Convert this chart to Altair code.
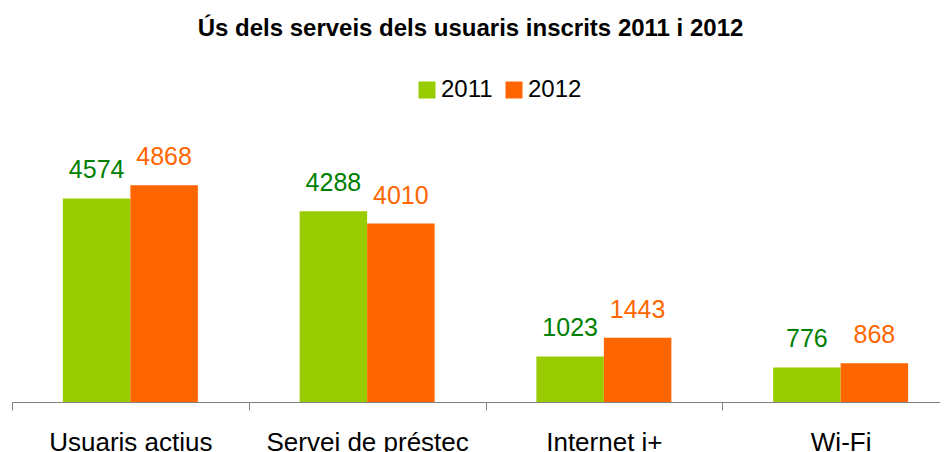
import altair as alt
import pandas as pd

categories = ["Usuaris actius", "Servei de préstec", "Internet i+", "Wi-Fi"]
years = ["2011", "2012"]
values_2011 = [4574, 4288, 1023, 776]
values_2012 = [4868, 4010, 1443, 868]
bar_colors = ["#99CC00", "#FF6600"]
text_colors = ["#008000", "#FF6600"]

rows = []
for c, a, b in zip(categories, values_2011, values_2012):
    rows.append({"cat": c, "year": years[0], "value": a, "tcolor": text_colors[0]})
    rows.append({"cat": c, "year": years[1], "value": b, "tcolor": text_colors[1]})
df = pd.DataFrame(rows)

FONT = "Liberation Sans"

x = alt.X(
    "cat:N",
    sort=categories,
    title=None,
    scale=alt.Scale(paddingInner=0, paddingOuter=0),
    axis=alt.Axis(
        tickBand="extent",
        ticks=True,
        tickSize=8,
        tickColor="#808080",
        domainColor="#808080",
        labelFontSize=26,
        labelFont=FONT,
        labelColor="#000000",
        labelAngle=0,
        labelBaseline="alphabetic",
        labelPadding=40,
        labelLimit=0,
        grid=False,
    ),
)
xoff = alt.XOffset(
    "year:N",
    sort=years,
    scale=alt.Scale(paddingInner=0, paddingOuter=0.754),
)
y = alt.Y("value:Q", scale=alt.Scale(domain=[0, 6000]), axis=None)

bars = alt.Chart(df).mark_bar().encode(
    x=x,
    xOffset=xoff,
    y=y,
    color=alt.Color(
        "year:N",
        sort=years,
        scale=alt.Scale(domain=years, range=bar_colors),
        legend=alt.Legend(
            title=None,
            orient="none",
            legendX=403,
            legendY=-57,
            direction="horizontal",
            symbolType="square",
            symbolSize=289,
            symbolStrokeWidth=0,
            labelFontSize=24,
            labelFont=FONT,
            labelColor="#000000",
            labelOffset=2,
            columnPadding=9,
            padding=0,
        ),
    ),
)

labels = alt.Chart(df).mark_text(
    dy=-20, baseline="alphabetic", align="center", fontSize=25, font=FONT
).encode(
    x=x,
    xOffset=xoff,
    y=y,
    text=alt.Text("value:Q"),
    color=alt.Color("tcolor:N", scale=None),
)

chart = (
    alt.layer(bars, labels)
    .resolve_scale(color="independent")
    .properties(
        width=947,
        height=267,
        padding={"left": 4, "top": 127, "right": -19, "bottom": 50},
        autosize=alt.AutoSizeParams(type="none"),
        title=alt.TitleParams(
            "Ús dels serveis dels usuaris inscrits 2011 i 2012",
            fontSize=24,
            font=FONT,
            fontWeight="bold",
            color="#000000",
            anchor="middle",
            frame="group",
            offset=37,
            dx=-15,
        ),
    )
    .configure_view(stroke=None)
)

chart.save("out.html", embed_options={"renderer": "svg", "actions": False})
